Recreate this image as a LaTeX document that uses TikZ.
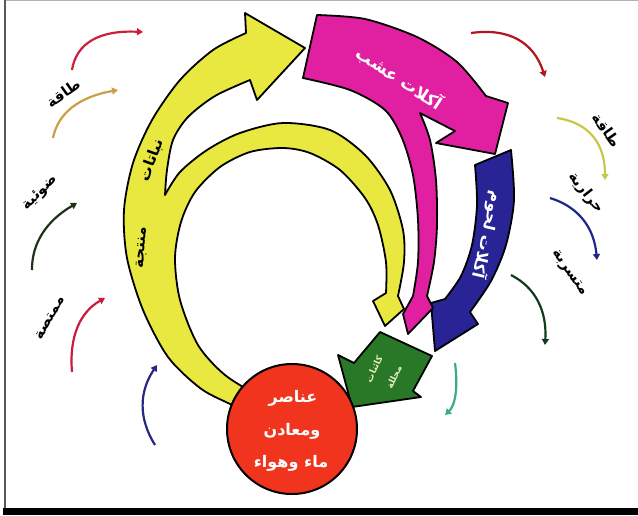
\documentclass[tikz,border=0pt]{standalone}
\usepackage{fontspec}
\usetikzlibrary{arrows.meta}
\TeXXeTstate=1
\newfontfamily\arabicfont[Script=Arabic]{DejaVu Sans}
\definecolor{yel}{RGB}{232,232,64}
\definecolor{mag}{RGB}{224,32,160}
\definecolor{blu}{RGB}{40,36,150}
\definecolor{grn}{RGB}{40,120,40}
\definecolor{crc}{RGB}{240,52,30}
\definecolor{cA}{RGB}{205,30,60}
\definecolor{cB}{RGB}{200,160,70}
\definecolor{cC}{RGB}{30,50,25}
\definecolor{cD}{RGB}{200,30,60}
\definecolor{cE}{RGB}{40,40,130}
\definecolor{cF}{RGB}{180,20,30}
\definecolor{cG}{RGB}{200,200,70}
\definecolor{cH}{RGB}{30,40,140}
\definecolor{cI}{RGB}{15,60,30}
\definecolor{cJ}{RGB}{60,170,140}
\definecolor{gtxt}{RGB}{230,240,190}
\tikzset{
 bigshape/.style={draw=black, line width=1.8pt, line join=round},
 thinarr/.style={line width=2.2pt, -{Triangle[length=6pt,width=7pt]}},
 lbl/.style={font=\arabicfont\bfseries\fontsize{14.5}{14.5}\selectfont, text=black, inner sep=0pt},
 wtxt/.style={font=\arabicfont\bfseries\fontsize{16}{16}\selectfont, text=white, inner sep=0pt},
 ytxt/.style={font=\arabicfont\bfseries\fontsize{15}{15}\selectfont, text=black, inner sep=0pt},
}
\begin{document}
\begin{tikzpicture}[x=1pt,y=-1pt]
\useasboundingbox (0,0) rectangle (638,515);
\fill[white] (0,0) rectangle (638,515);
% frame
\draw[gray!60, line width=1pt] (4,0.5) -- (638,0.5);
\draw[black!65, line width=2pt] (5,0) -- (5,510);
\fill[black] (3,508) rectangle (638,515);

% blue arrow
\path[bigshape, fill=blu]
 (475,165) -- plot[smooth] coordinates {(511,150) (514,200) (506,245) (491,281) (470,312)}
 -- (478,324) -- (435,351) -- (431,303) --
 plot[smooth] coordinates {(445,299) (461,276) (472,245) (477,205) (475,165)} -- cycle;

% yellow arrow
\path[bigshape, fill=yel]
 plot[smooth] coordinates {(258,416) (228,403) (200,388) (168,357) (143,310) (127,258) (124,210) (133,163) (152,120) (180,80) (213,50) (246,33)}
 -- (245,13) -- (305,48) -- (257,100) --
 plot[smooth] coordinates {(250,80) (215,96) (188,117) (173,140) (167,170) (165,195)}
 -- plot[smooth] coordinates {(165,195) (180,172) (207,150) (240,133) (283,123) (330,130) (365,155) (390,190) (403,230) (404,262) (398,296)}
 -- (404,309) -- (385,326) -- (373,301) --
 plot[smooth] coordinates {(386,293) (386,262) (378,225) (365,198) (340,170) (310,153) (283,148) (250,152) (220,167) (195,192) (181,222) (175,258) (180,300) (198,345) (225,375) (262,398)}
 -- cycle;

% magenta arrow
\path[bigshape, fill=mag]
 plot[smooth] coordinates {(317,15) (365,19) (417,37) (457,62) (486,96)}
 -- (508,103) -- (495,154) -- (436,143) -- (455,131) --
 plot[smooth] coordinates {(420,113) (430,140) (436,180) (437,225) (434,262) (427,296)}
 -- (433,308) -- (408,334) -- (403,314) --
 plot[smooth] coordinates {(413,296) (418,262) (418,220) (413,175) (402,138) (385,110) (350,90) (303,78)}
 -- cycle;

% green arrow
\path[bigshape, fill=grn] (338,355) -- (354,363) -- (380,332) -- (432,356) -- (413,391) -- (421,397) -- (352,407) -- cycle;

% source circle
\node[circle, draw=black, line width=2pt, fill=crc, minimum size=130pt, inner sep=0pt] (src) at (292,429) {};
\node[wtxt] (s1) at (293,398) {\beginR عناصر\endR};
\node[wtxt] (s2) at (292,431) {\beginR ومعادن\endR};
\node[wtxt] (s3) at (291,463) {\beginR ماء وهواء\endR};

% texts on arrows
\node[ytxt, rotate=70] (y1) at (152,160) {\beginR نباتات\endR};
\node[ytxt, rotate=86] (y2) at (142,248) {\beginR منتجة\endR};
\node[wtxt, font=\arabicfont\bfseries\fontsize{17}{17}\selectfont, rotate=-33] (m1) at (400,78) {\beginR آكلات عشب\endR};
\node[wtxt, rotate=-103] (b1) at (488,235) {\beginR آكلات لحوم\endR};
\node[font=\arabicfont\bfseries\fontsize{9}{9}\selectfont, text=gtxt, inner sep=0pt, rotate=65] (g1) at (374,369) {\beginR كائنات\endR};
\node[font=\arabicfont\bfseries\fontsize{9}{9}\selectfont, text=gtxt, inner sep=0pt, rotate=65] (g2) at (394,377) {\beginR محللة\endR};

% side labels
\node[lbl, rotate=35] (l1) at (63,93) {\beginR طاقة\endR};
\node[lbl, rotate=45] (l2) at (40,193) {\beginR ضوئية\endR};
\node[lbl, rotate=60] (l3) at (50,318) {\beginR ممتصة\endR};
\node[lbl, rotate=-55] (r1) at (607,130) {\beginR طاقة\endR};
\node[lbl, rotate=-52] (r2) at (586,193) {\beginR حرارية\endR};
\node[lbl, rotate=-55] (r3) at (569,273) {\beginR متسربة\endR};

% small energy arrows
\coordinate (a1s) at (72,70);   \coordinate (a1e) at (143,32);
\coordinate (a2s) at (53,138);  \coordinate (a2e) at (118,90);
\coordinate (a3s) at (32,270);  \coordinate (a3e) at (77,203);
\coordinate (a4s) at (72,372);  \coordinate (a4e) at (105,298);
\coordinate (a5s) at (155,445); \coordinate (a5e) at (157,365);
\coordinate (a6s) at (471,33);  \coordinate (a6e) at (545,77);
\coordinate (a7s) at (557,118); \coordinate (a7e) at (605,180);
\coordinate (a8s) at (550,198); \coordinate (a8e) at (597,260);
\coordinate (a9s) at (511,275); \coordinate (a9e) at (545,345);
\coordinate (a10s) at (455,363); \coordinate (a10e) at (445,415);
\draw[thinarr, cA] (a1s) .. controls (76.3,42.7) and (100,30) .. (a1e);
\draw[thinarr, cB] (a2s) .. controls (58,112.7) and (79.7,96.7) .. (a2e);
\draw[thinarr, cC] (a3s) .. controls (31.7,243) and (46.7,220.7) .. (a3e);
\draw[thinarr, cD] (a4s) .. controls (69,336.7) and (80,312) .. (a4e);
\draw[thinarr, cE] (a5s) .. controls (138.3,418.3) and (139,391.7) .. (a5e);
\draw[thinarr, cF] (a6s) .. controls (509,27.7) and (533.7,42.3) .. (a6e);
\draw[thinarr, cG] (a7s) .. controls (589,122.7) and (605,143.3) .. (a7e);
\draw[thinarr, cH] (a8s) .. controls (578.3,206.7) and (594,227.3) .. (a8e);
\draw[thinarr, cI] (a9s) .. controls (535.7,287.7) and (547,311) .. (a9e);
\draw[thinarr, cJ] (a10s) .. controls (458.3,388.3) and (455,405.7) .. (a10e);
\end{tikzpicture}
\end{document}
